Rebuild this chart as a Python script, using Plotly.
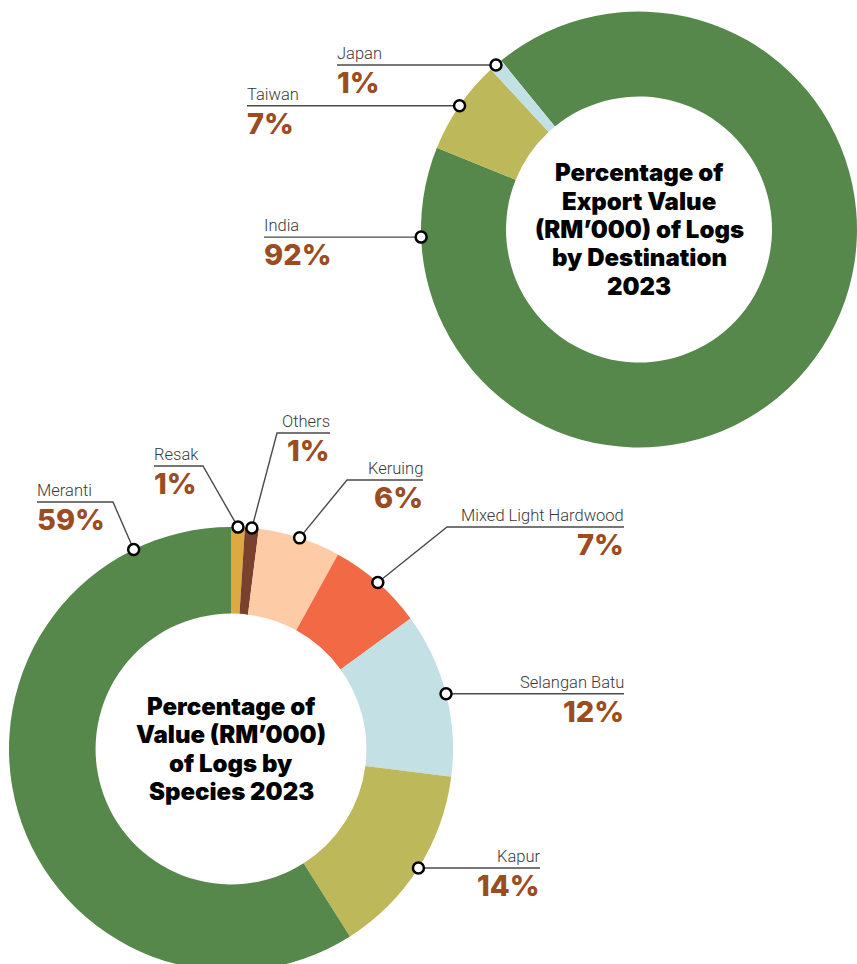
"""Log export donuts: destination and species shares, 2023."""

import math

import plotly.graph_objects as go

W, H = 857, 980

# ---- data -------------------------------------------------------------
DEST_LABELS = ["India", "Taiwan", "Japan"]
DEST_VALUES = [92, 7, 1]
DEST_TITLE = ["Percentage of", "Export Value", "(RM\u2019000) of Logs",
              "by Destination", "2023"]

SPECIES_LABELS = ["Resak", "Others", "Keruing", "Mixed Light Hardwood",
                  "Selangan Batu", "Kapur", "Meranti"]
SPECIES_VALUES = [1, 1, 6, 7, 12, 14, 59]
SPECIES_TITLE = ["Percentage of", "Value (RM\u2019000)", "of Logs by",
                 "Species 2023"]

# ---- style ------------------------------------------------------------
GREEN = "#55884a"
OLIVE = "#bdb85a"
LIGHT_BLUE = "#c3e0e4"
GOLD = "#dfa942"
BROWN = "#7a412c"
PEACH = "#fdcca6"
ORANGE = "#f26a45"
PCT_COLOR = "#9b4c21"
NAME_COLOR = "#3a3a3a"
LINE_COLOR = "#4a4a4a"

DEST_COLORS = [GREEN, OLIVE, LIGHT_BLUE]
SPECIES_COLORS = [GOLD, BROWN, PEACH, ORANGE, LIGHT_BLUE, OLIVE, GREEN]

HOLE = 0.61
TITLE_PITCH = 28.4

# pie geometry in pixels: centre x, centre y, radius, rotation
DEST_GEOM = (639, 229.5, 218, -39.2)
SPECIES_GEOM = (231, 749, 222, 0)

# label placement: (elbow or None, line end x, text side)
DEST_LEADERS = {
    "India": (None, 264, "left"),
    "Taiwan": (None, 247, "left"),
    "Japan": (None, 337, "left"),
}
SPECIES_LEADERS = {
    "Meranti": ((113, 502), 37, "left"),
    "Resak": ((203, 466), 154, "left"),
    "Others": ((277, 433), 330, "right"),
    "Keruing": ((347, 480), 423, "right"),
    "Mixed Light Hardwood": ((447, 527), 624, "right"),
    "Selangan Batu": (None, 624, "right"),
    "Kapur": (None, 540, "right"),
}
# big slices carry their dot away from the slice middle
DOT_ANGLE = {"India": 268, "Meranti": 334}


def domain(geom):
    cx, cy, r, _ = geom
    return dict(
        x=[max(0, (cx - r) / W), min(1, (cx + r) / W)],
        y=[max(0, 1 - (cy + r) / H), min(1, 1 - (cy - r) / H)],
    )


def mid_angles(values, rotation):
    total = sum(values)
    out, acc = [], 0
    for v in values:
        out.append(rotation + (acc + v / 2) / total * 360)
        acc += v
    return out


fig = go.Figure()

for labels, values, colors, geom in [
    (DEST_LABELS, DEST_VALUES, DEST_COLORS, DEST_GEOM),
    (SPECIES_LABELS, SPECIES_VALUES, SPECIES_COLORS, SPECIES_GEOM),
]:
    fig.add_trace(
        go.Pie(
            labels=labels,
            values=values,
            hole=HOLE,
            sort=False,
            direction="clockwise",
            rotation=geom[3],
            marker=dict(colors=colors, line=dict(width=0)),
            textinfo="none",
            hoverinfo="label+percent",
            showlegend=False,
            domain=domain(geom),
        )
    )

shapes = []
annotations = []

for labels, values, geom, leaders, title in [
    (DEST_LABELS, DEST_VALUES, DEST_GEOM, DEST_LEADERS, DEST_TITLE),
    (SPECIES_LABELS, SPECIES_VALUES, SPECIES_GEOM, SPECIES_LEADERS, SPECIES_TITLE),
]:
    cx, cy, r, rot = geom
    for name, val, ang in zip(labels, values, mid_angles(values, rot)):
        ang = DOT_ANGLE.get(name, ang)
        dx = cx + r * math.sin(math.radians(ang))
        dy = cy - r * math.cos(math.radians(ang))
        elbow, x_end, side = leaders[name]
        if elbow is None:
            elbow = (dx, dy)
        ly = elbow[1]
        shapes.append(dict(
            type="path", xref="x", yref="y", layer="above",
            path=f"M{dx},{dy} L{elbow[0]},{ly} L{x_end},{ly}",
            line=dict(color=LINE_COLOR, width=1.4),
        ))
        shapes.append(dict(
            type="circle", xref="x", yref="y", layer="above",
            x0=dx - 5.5, x1=dx + 5.5, y0=dy - 5.5, y1=dy + 5.5,
            fillcolor="white", line=dict(color="black", width=2.5),
        ))
        annotations.append(dict(
            x=x_end, y=ly - 2, xref="x", yref="y",
            text=name, showarrow=False, borderpad=0, borderwidth=0,
            xanchor=side, yanchor="bottom",
            font=dict(family="Roboto", size=16.5, color=NAME_COLOR, weight=300),
        ))
        annotations.append(dict(
            x=x_end, y=ly, xref="x", yref="y",
            text=f"{val}%", showarrow=False, borderpad=0, borderwidth=0,
            xanchor=side, yanchor="top",
            font=dict(family="Inter", size=29, color=PCT_COLOR, weight=800),
        ))
    n = len(title)
    for i, line in enumerate(title):
        annotations.append(dict(
            x=cx, y=cy + (i - (n - 1) / 2) * TITLE_PITCH, xref="x", yref="y",
            text=line, showarrow=False,
            xanchor="center", yanchor="middle",
            font=dict(family="Inter", size=24, color="black", weight=900),
        ))

fig.update_layout(
    width=W,
    height=H,
    margin=dict(l=0, r=0, t=0, b=0),
    paper_bgcolor="white",
    plot_bgcolor="white",
    xaxis=dict(range=[0, W], visible=False, fixedrange=True),
    yaxis=dict(range=[H, 0], visible=False, fixedrange=True),
    shapes=shapes,
    annotations=annotations,
)

fig.write_html(
    "out.html",
    config={"displayModeBar": False},
    post_script="document.body.style.margin='0';document.body.style.overflow='hidden';",
)
